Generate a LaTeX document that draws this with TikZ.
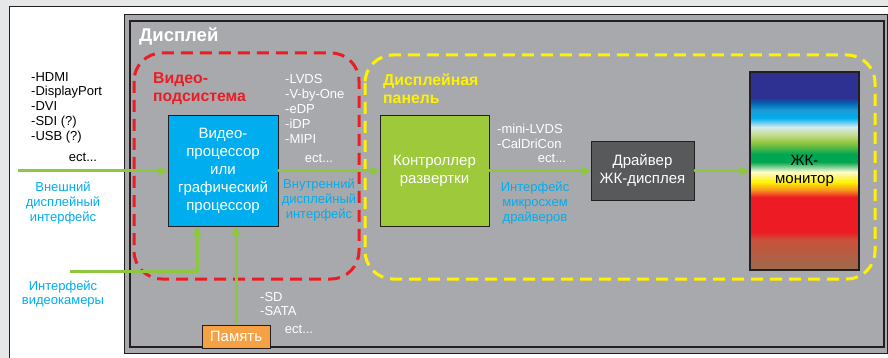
\documentclass[tikz,border=0pt]{standalone}
\usepackage{fontspec}
\setmainfont{Liberation Sans}
\usetikzlibrary{arrows.meta}
\definecolor{pagebg}{HTML}{E6E7E8}
\definecolor{edge}{HTML}{231F20}
\definecolor{dispgray}{HTML}{A7A9AC}
\definecolor{zonered}{HTML}{ED1C24}
\definecolor{zoneyellow}{HTML}{FFF200}
\definecolor{flowgreen}{HTML}{8DC63F}
\definecolor{itfcyan}{HTML}{00AEEF}
\definecolor{procblue}{HTML}{00AEEF}
\definecolor{tcongreen}{HTML}{9DC93B}
\definecolor{drvgray}{HTML}{58595B}
\definecolor{memorange}{HTML}{F7A145}
\definecolor{lcdbrown}{HTML}{9B6A4C}
\definecolor{lcdrust}{HTML}{C9513A}
\definecolor{lcdred}{HTML}{ED1C24}
\definecolor{lcdorange}{HTML}{F7941D}
\definecolor{lcdyellow}{HTML}{FFF200}
\definecolor{lcdpale}{HTML}{FFFBD0}
\definecolor{lcdgreen}{HTML}{00A651}
\definecolor{lcdlime}{HTML}{8DC63F}
\definecolor{lcdmint}{HTML}{C5DC8A}
\definecolor{lcdice}{HTML}{D4ECF0}
\definecolor{lcdcyan}{HTML}{00AEEF}
\definecolor{lcdsky}{HTML}{1C9AD6}
\definecolor{lcdblue}{HTML}{0066B3}
\definecolor{lcddeep}{HTML}{2E3192}
% spectrum of the panel, mapped into the 25bp..75bp window used by tikz
\pgfdeclareverticalshading{lcdspec}{100bp}{%
  color(0bp)=(lcdbrown); color(25bp)=(lcdbrown); color(32.6bp)=(lcdrust);
  color(34.6bp)=(lcdred); color(43.4bp)=(lcdred); color(45.2bp)=(lcdorange);
  color(47.2bp)=(lcdyellow); color(49.8bp)=(lcdpale); color(52.3bp)=(lcdgreen);
  color(54.3bp)=(lcdgreen); color(57.1bp)=(lcdlime); color(59.1bp)=(lcdmint);
  color(61.1bp)=(lcdice); color(63.4bp)=(lcdcyan); color(65.4bp)=(lcdsky);
  color(67.2bp)=(lcdblue); color(68.4bp)=(lcddeep); color(75bp)=(lcddeep);
  color(100bp)=(lcddeep)}

\begin{document}
\begin{tikzpicture}[
    x=1pt, y=-1pt,
    lbl/.style={font=\fontsize{13}{14.8}\selectfont, inner sep=0pt, align=left},
    wlbl/.style={lbl, text=white},
    itf/.style={lbl, text=itfcyan, align=center},
    ttl/.style={font=\bfseries\fontsize{15.8}{18}\selectfont, inner sep=0pt, align=left},
    blk/.style={draw=edge, line width=0.8pt, text=white, align=center,
                font=\fontsize{15}{18}\selectfont, inner sep=0pt},
    flow/.style={draw=flowgreen, line width=3pt},
    zone/.style={line width=3pt, dash pattern=on 12pt off 7pt, rounded corners=28pt},
    >={Triangle[length=9pt, width=9pt]}
]
\useasboundingbox (0,0) rectangle (888,358);

% Page and frame
\fill[pagebg] (0,0) rectangle (888,358);
\fill[white] (9,7) rectangle (888,358);
\draw[edge, line width=1pt] (9,358) -- (9,7) -- (888,7);

% Display housing
\draw[fill=dispgray, draw=edge, line width=1pt] (124,15) rectangle (887,353);
\draw[edge, line width=1.5pt] (130,21) rectangle (884,347);
\node[ttl, text=white, font=\bfseries\fontsize{18.5}{20}\selectfont, anchor=west] (dispTitle) at (139,36) {Дисплей};

% Zones
\draw[zone, zonered] (134,53) rectangle (359,279);
\draw[zone, zoneyellow] (365,55) rectangle (875,279);
\node[ttl, text=zonered, anchor=west] (vsubTitle) at (153,89) {Видео-\\подсистема};
\node[ttl, text=zoneyellow, anchor=west] (panelTitle) at (383,89) {Дисплейная\\панель};

% Blocks
\node[blk, fill=procblue, minimum width=110pt, minimum height=111pt] (vproc) at (223,170.5)
    {Видео-\\процессор\\или\\графический\\процессор};
\node[blk, fill=tcongreen, minimum width=109pt, minimum height=111pt] (tcon) at (434.5,170.5)
    {Контроллер\\развертки};
\node[blk, fill=drvgray, minimum width=103pt, minimum height=59pt] (driver) at (642.5,170.5)
    {Драйвер\\ЖК-дисплея};
\node[blk, text=black, shade, shading=lcdspec, line width=1.2pt,
      minimum width=109pt, minimum height=198pt] (lcd) at (804.5,171) {ЖК-\\монитор};
\node[blk, fill=memorange, minimum width=68pt, minimum height=23pt] (mem) at (236,336.5) {Память};

% Connectors
\coordinate (extIn) at (18,171);
\coordinate (camIn) at (70,271);
\draw[flow, ->] (extIn) -- (extIn -| vproc.west);
\draw[flow, ->] (vproc.east |- extIn) -- (tcon.west |- extIn);
\draw[flow, ->] (tcon.east |- extIn) -- (driver.west |- extIn);
\draw[flow, ->] (driver.east |- extIn) -- (lcd.west |- extIn);
\draw[flow, ->] (camIn) -| ([xshift=-26pt]vproc.south);
\draw[flow, ->] (mem.north) -- (mem.north |- vproc.south);

% External interfaces
\node[lbl, anchor=west] (extList) at (31,107.5) {-HDMI\\-DisplayPort\\-DVI\\-SDI (?)\\-USB (?)};
\node[lbl] (extEct) at (83,157) {ect...};
\node[itf] (extLbl) at (63,203) {Внешний\\дисплейный\\интерфейс};
\node[itf] (camLbl) at (63,294) {Интерфейс\\видеокамеры};

% Internal interfaces
\node[wlbl, anchor=west] (intList) at (285,109) {-LVDS\\-V-by-One\\-eDP\\-iDP\\-MIPI};
\node[wlbl] (intEct) at (319,158) {ect...};
\node[itf] (intLbl) at (319,200) {Внутренний\\дисплейный\\интерфейс};

% Driver interfaces
\node[wlbl, anchor=west] (tconList) at (497,136) {-mini-LVDS\\-CalDriCon};
\node[wlbl] (tconEct) at (552,158) {ect...};
\node[itf] (tconLbl) at (535,203) {Интерфейс\\микросхем\\драйверов};

% Storage
\node[wlbl, anchor=west] (memList) at (260,304) {-SD\\-SATA};
\node[wlbl] (memEct) at (299,329) {ect...};

\end{tikzpicture}
\end{document}
